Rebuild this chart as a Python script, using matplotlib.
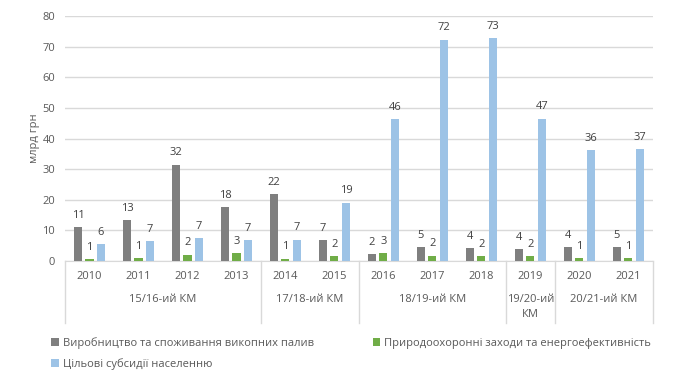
import matplotlib.pyplot as plt
import numpy as np

plt.rcParams['font.family'] = ['Open Sans', 'DejaVu Sans']

# Дані
years = ['2010', '2011', '2012', '2013', '2014', '2015',
         '2016', '2017', '2018', '2019', '2020', '2021']
fossil = [11.1, 13.3, 31.5, 17.5, 21.8, 6.8, 2.3, 4.5, 4.3, 4.0, 4.5, 4.6]
green = [0.6, 1.0, 2.1, 2.6, 0.8, 1.6, 2.5, 1.8, 1.6, 1.7, 0.9, 0.9]
subsidy = [5.5, 6.5, 7.5, 6.8, 7.0, 19.1, 46.3, 72.3, 72.7, 46.5, 36.3, 36.6]
fossil_lbl = [11, 13, 32, 18, 22, 7, 2, 5, 4, 4, 4, 5]
green_lbl = [1, 1, 2, 3, 1, 2, 3, 2, 2, 2, 1, 1]
subsidy_lbl = [6, 7, 7, 7, 7, 19, 46, 72, 73, 47, 36, 37]

groups = ['15/16-ий КМ', '17/18-ий КМ', '18/19-ий КМ', '19/20-ий\nКМ', '20/21-ий КМ']
group_sizes = [4, 2, 3, 1, 2]

names = ['Виробництво та споживання викопних палив',
         'Природоохоронні заходи та енергоефективність',
         'Цільові субсидії населенню']
colors = ['#7f7f7f', '#70ad47', '#9dc3e6']
txt = '#595959'

fig = plt.figure(figsize=(6.9, 3.83), dpi=100)
ax = fig.add_axes([0.0942, 0.3185, 0.852, 0.6397])

x = np.arange(len(years))
w = 0.165
step = 0.235
series = [fossil, green, subsidy]
labels = [fossil_lbl, green_lbl, subsidy_lbl]
bars = []
for i, (vals, lbl) in enumerate(zip(series, labels)):
    b = ax.bar(x + (i - 1) * step, vals, w, color=colors[i], label=names[i], zorder=3)
    bars.append(b)
    for xi, v, l in zip(x + (i - 1) * step, vals, lbl):
        ax.annotate(str(l), (xi, v), xytext=(0, 4.5), textcoords='offset points',
                    ha='center', va='bottom', fontsize=8, color='#404040')

ax.set_xlim(-0.5, len(years) - 0.5)
ax.set_ylim(0, 80)
ax.set_yticks(range(0, 81, 10))
ax.yaxis.grid(True, color='#d9d9d9', linewidth=1, zorder=0)
for s in ['top', 'right', 'left']:
    ax.spines[s].set_visible(False)
ax.spines['bottom'].set_color('#d9d9d9')
ax.tick_params(axis='y', length=0, labelsize=8, labelcolor=txt, pad=7)
ax.set_xticks([])
ax.set_ylabel('млрд грн', fontsize=8, color=txt, labelpad=2)

# Дворівнева вісь категорій
tr = ax.get_xaxis_transform()
for xi, y in zip(x, years):
    ax.text(xi, -0.065, y, transform=tr, ha='center', va='center', fontsize=8, color=txt)
start = -0.5
bounds = [start]
for g, n in zip(groups, group_sizes):
    end = start + n
    ax.text((start + end) / 2, -0.135, g, transform=tr, ha='center', va='top',
            fontsize=8, color=txt, linespacing=1.5)
    bounds.append(end)
    start = end
for bx in bounds:
    ax.plot([bx, bx], [0, -0.253], transform=tr, color='#d9d9d9', linewidth=1, clip_on=False)

handles = [bars[0], bars[2], bars[1]]
fig.legend(handles, [names[0], names[2], names[1]], ncol=2, loc='upper left',
           bbox_to_anchor=(0.06, 0.145), frameon=False, fontsize=8,
           handlelength=0.7, handleheight=0.7, handletextpad=0.3,
           columnspacing=5.3, labelspacing=0.8, labelcolor=txt)

fig.savefig('out.png', dpi=100)
